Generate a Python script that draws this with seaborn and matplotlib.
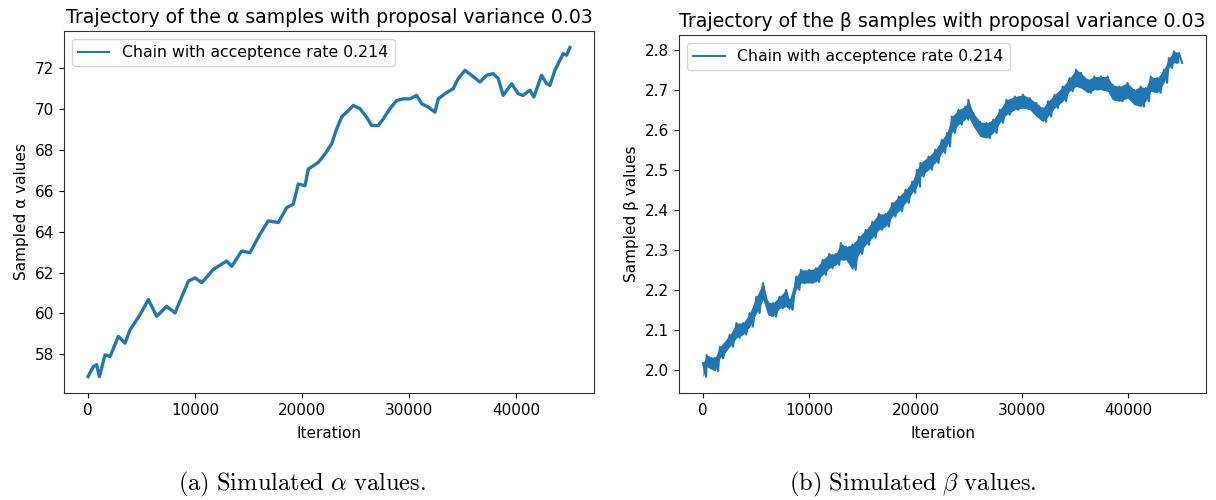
import matplotlib
matplotlib.use("Agg")
import matplotlib.pyplot as plt
import seaborn as sns
import pandas as pd

# ---- data ----
alpha_iter = [0, 500, 800, 1060, 1590, 2060, 2830, 3460, 3925, 4860, 5640, 6420,
              7350, 8130, 9380, 10000, 10630, 11710, 12960, 13430, 14360, 15140,
              16070, 16850, 17790, 18570, 19190, 19650, 20280, 20590, 21530, 22150,
              22770, 23240, 23710, 24180, 24800, 25420, 26050, 26510, 27130, 27600,
              28220, 28850, 29470, 30090, 30720, 31190, 31810, 32430, 32740, 33360,
              34140, 34610, 35230, 35860, 36640, 37260, 37880, 38350, 38810, 39600,
              40220, 40680, 41310, 41680, 42400, 42870, 43180, 43640, 44420, 44740,
              45050]
alpha_value = [56.92, 57.41, 57.5, 56.92, 57.98, 57.9, 58.88, 58.55, 59.2, 59.94,
               60.68, 59.86, 60.35, 60.03, 61.58, 61.74, 61.5, 62.15, 62.56, 62.3,
               63.05, 62.97, 63.87, 64.52, 64.44, 65.17, 65.34, 66.32, 66.24, 67.05,
               67.38, 67.79, 68.28, 69.0, 69.6, 69.83, 70.16, 70.0, 69.58, 69.18,
               69.18, 69.5, 70.0, 70.4, 70.48, 70.48, 70.65, 70.24, 70.08, 69.83,
               70.48, 70.73, 70.98, 71.47, 71.87, 71.63, 71.3, 71.63, 71.71, 71.47,
               70.65, 71.22, 70.73, 70.65, 70.9, 70.57, 71.63, 71.22, 71.14, 71.87,
               72.69, 72.61, 72.99]

beta_iter = [0, 345, 1120, 1590, 2520, 3150, 3770, 4390, 5020, 5640, 6100, 6570,
             7200, 7820, 8130, 8760, 9220, 10000, 10620, 11250, 11870, 12500, 12960,
             13430, 14050, 14670, 15300, 15920, 16540, 17170, 17790, 18410, 19040,
             19660, 20110, 20440, 21210, 21840, 22460, 22930, 23390, 24020, 24640,
             24950, 25420, 26050, 26670, 27290, 27910, 28530, 29320, 30090, 30720,
             31340, 31960, 32430, 33050, 33830, 34460, 35080, 35540, 36170, 36790,
             37410, 38040, 38500, 39130, 39910, 40530, 41150, 41620, 42090, 42710,
             43330, 43800, 44270, 44740]
beta_high = [2.017, 2.037, 2.03, 2.058, 2.0875, 2.117, 2.117, 2.142, 2.183, 2.217,
             2.17, 2.167, 2.183, 2.2, 2.175, 2.233, 2.25, 2.25, 2.254, 2.275, 2.29,
             2.29, 2.317, 2.308, 2.313, 2.333, 2.35, 2.37, 2.39, 2.39, 2.417, 2.433,
             2.45, 2.47, 2.5, 2.517, 2.533, 2.55, 2.575, 2.592, 2.633, 2.65, 2.658,
             2.675, 2.642, 2.62, 2.617, 2.625, 2.65, 2.675, 2.683, 2.6875, 2.679,
             2.667, 2.654, 2.671, 2.6875, 2.708, 2.729, 2.75, 2.742, 2.725, 2.733,
             2.733, 2.733, 2.7125, 2.708, 2.717, 2.7, 2.708, 2.704, 2.733, 2.729,
             2.75, 2.779, 2.796, 2.792]
beta_low = [1.983, 2.008, 1.997, 2.029, 2.058, 2.08, 2.088, 2.108, 2.142, 2.175,
            2.137, 2.133, 2.154, 2.158, 2.15, 2.2, 2.217, 2.217, 2.22, 2.2375, 2.254,
            2.2625, 2.275, 2.275, 2.25, 2.29, 2.3125, 2.33, 2.35, 2.358, 2.383, 2.396,
            2.417, 2.442, 2.458, 2.483, 2.5, 2.517, 2.542, 2.558, 2.592, 2.6125,
            2.625, 2.633, 2.608, 2.583, 2.579, 2.592, 2.617, 2.6375, 2.65, 2.654,
            2.65, 2.633, 2.62, 2.633, 2.654, 2.671, 2.696, 2.708, 2.704, 2.692, 2.7,
            2.7, 2.696, 2.675, 2.671, 2.679, 2.6625, 2.658, 2.671, 2.696, 2.692,
            2.717, 2.754, 2.767, 2.767]

legend_label = "Chain with acceptence rate 0.214"
titles = ["Trajectory of the \u03b1 samples with proposal variance 0.03",
          "Trajectory of the \u03b2 samples with proposal variance 0.03"]
ylabels = ["Sampled \u03b1 values", "Sampled \u03b2 values"]
captions = [r"$\mathrm{(a)\ Simulated\ }\alpha\mathrm{\ values.}$",
            r"$\mathrm{(b)\ Simulated\ }\beta\mathrm{\ values.}$"]

# ---- build frames ----
df_a = pd.DataFrame({"Iteration": alpha_iter, "value": alpha_value})
zx, zy = [], []
for it, hi, lo in zip(beta_iter, beta_high, beta_low):
    zx += [it, it + 300]
    zy += [hi, lo]
df_b = pd.DataFrame({"Iteration": zx, "value": zy})

plt.rcParams["mathtext.fontset"] = "cm"
fig = plt.figure(figsize=(12.16, 5.0), dpi=100)
ax1 = fig.add_axes([0.0526, 0.214, 0.4359, 0.724])
ax2 = fig.add_axes([0.5584, 0.214, 0.4334, 0.716])

color = "#1f77b4"
sns.lineplot(data=df_a, x="Iteration", y="value", ax=ax1, color=color,
             linewidth=2.4, estimator=None, sort=False, label=legend_label)
sns.lineplot(data=df_b, x="Iteration", y="value", ax=ax2, color=color,
             linewidth=1.5, estimator=None, sort=False, label=legend_label)
ax2.fill_between(beta_iter, beta_low, beta_high, color=color, linewidth=0)

for ax, t, yl in zip([ax1, ax2], titles, ylabels):
    ax.set_title(t, fontsize=13.6)
    ax.set_xlabel("Iteration", fontsize=11, labelpad=6)
    ax.set_ylabel(yl, fontsize=11)
    ax.tick_params(labelsize=11)
    ax.set_xticks([0, 10000, 20000, 30000, 40000])
    leg = ax.legend(loc="upper left", fontsize=11.3)
    for ln in leg.get_lines():
        ln.set_linewidth(1.5)
    for s in ax.spines.values():
        s.set_color("#333333")

ax2.set_yticks([2.0, 2.1, 2.2, 2.3, 2.4, 2.5, 2.6, 2.7, 2.8])

fig.text(0.248, 0.032, captions[0], ha="center", va="center", fontsize=17.6)
fig.text(0.751, 0.032, captions[1], ha="center", va="center", fontsize=17.6)

fig.savefig("out.png", dpi=100)
